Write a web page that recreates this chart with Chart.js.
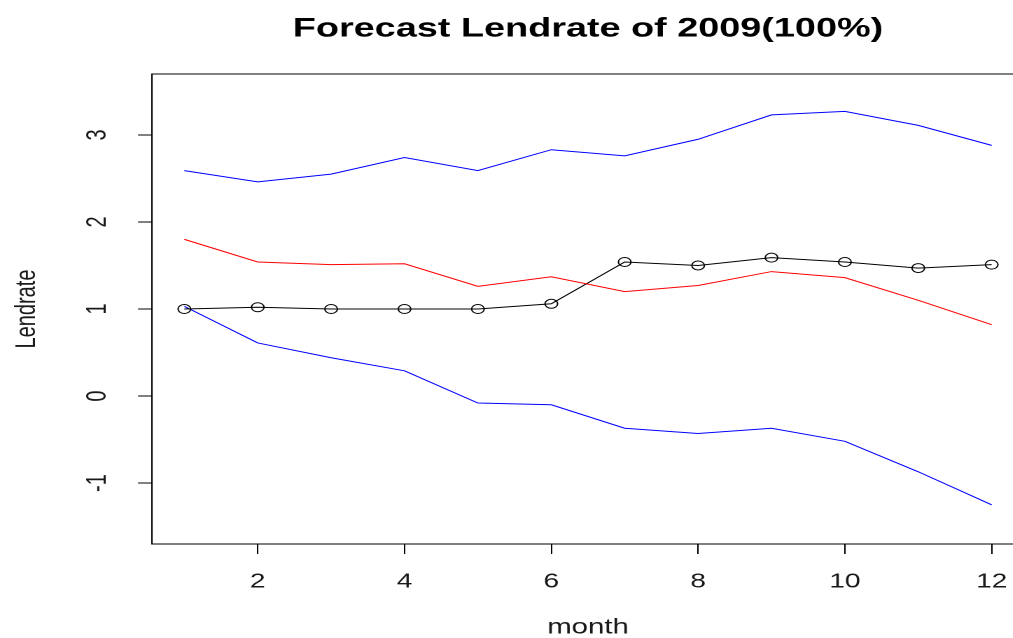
<!DOCTYPE html>
<html>
<head>
<meta charset="utf-8">
<script src="https://cdn.jsdelivr.net/npm/chart.js@4.4.1/dist/chart.umd.min.js"></script>
<style>
  html, body { margin: 0; padding: 0; background: #fff; overflow: hidden; }
  #frame { width: 1013px; height: 638px; overflow: hidden; position: relative; background: #fff; }
  /* the plot is drawn narrow and widened horizontally, giving the wide lettering and oval markers */
  #c { position: absolute; left: 0; top: 0; transform: scaleX(1.4); transform-origin: 0 0; }
</style>
</head>
<body>
<div id="frame"><canvas id="c" width="740" height="638"></canvas></div>
<script>
// Monthly lending-rate forecast for 2009 with its upper and lower bounds
const months      = [1, 2, 3, 4, 5, 6, 7, 8, 9, 10, 11, 12];
const upperBound  = [2.59, 2.46, 2.55, 2.74, 2.59, 2.83, 2.76, 2.95, 3.23, 3.27, 3.11, 2.88];
const forecast    = [1.80, 1.54, 1.51, 1.52, 1.26, 1.37, 1.20, 1.27, 1.43, 1.36, 1.10, 0.82];
const actual      = [1.00, 1.02, 1.00, 1.00, 1.00, 1.06, 1.54, 1.50, 1.59, 1.54, 1.47, 1.51];
const lowerBound  = [1.03, 0.61, 0.44, 0.29, -0.08, -0.10, -0.37, -0.43, -0.37, -0.52, -0.87, -1.25];
const xTickValues = [2, 4, 6, 8, 10, 12];
const yTickValues = [-1, 0, 1, 2, 3];

const FONT = "'Liberation Sans', Arial, Helvetica, sans-serif";
const TEXT = '#1a1a1a';
const toPoints = vals => months.map((m, i) => ({ x: m, y: vals[i] }));

// closes the plot box and writes the y tick labels turned along the axis
const boxAndYLabels = {
  id: 'boxAndYLabels',
  afterDraw(chart) {
    const { ctx, chartArea: a, scales: { y } } = chart;
    ctx.save();
    ctx.strokeStyle = '#000';
    ctx.lineWidth = 1;
    ctx.beginPath();
    ctx.moveTo(a.left, a.top);
    ctx.lineTo(a.right, a.top);
    ctx.lineTo(a.right, a.bottom);
    ctx.stroke();
    ctx.font = `20px ${FONT}`;
    ctx.fillStyle = TEXT;
    ctx.textAlign = 'center';
    ctx.textBaseline = 'middle';
    const labelX = y.right - 38.4;
    y.ticks.forEach(t => {
      ctx.save();
      ctx.translate(labelX, y.getPixelForValue(t.value));
      ctx.rotate(-Math.PI / 2);
      ctx.fillText(String(t.value), 0, 0);
      ctx.restore();
    });
    ctx.restore();
  }
};

const line = (data, color, extra) => Object.assign({
  data: toPoints(data),
  borderColor: color,
  borderWidth: 1,
  pointRadius: 0,
  tension: 0,
  fill: false
}, extra || {});

new Chart(document.getElementById('c'), {
  type: 'line',
  data: {
    datasets: [
      line(upperBound, '#0000FF'),
      line(forecast, '#FF0000'),
      line(actual, '#000000', {
        pointRadius: 4.5,
        pointBorderWidth: 1,
        pointBorderColor: '#000',
        pointBackgroundColor: 'rgba(0,0,0,0)',
        pointStyle: 'circle'
      }),
      line(lowerBound, '#0000FF')
    ]
  },
  plugins: [boxAndYLabels],
  options: {
    responsive: false,
    devicePixelRatio: 2,
    animation: false,
    events: [],
    layout: { padding: { left: 0, right: 8.6, top: 0, bottom: 0 } },
    plugins: {
      legend: { display: false },
      tooltip: { enabled: false },
      title: {
        display: true,
        fullSize: false,
        text: 'Forecast Lendrate of 2009(100%)',
        color: '#000',
        font: { family: FONT, size: 27, weight: 'bold', lineHeight: 1 },
        padding: { top: 15.5, bottom: 31.5 }
      }
    },
    scales: {
      x: {
        type: 'linear',
        min: 0.56,
        max: 12.44,
        afterBuildTicks: s => { s.ticks = xTickValues.map(v => ({ value: v })); },
        afterFit: s => { s.height = 94; },
        ticks: {
          color: TEXT,
          font: { family: FONT, size: 20 },
          padding: 16,
          maxRotation: 0,
          autoSkip: false,
          callback: v => String(v)
        },
        grid: { drawOnChartArea: false, drawTicks: true, tickLength: 10, color: '#000', lineWidth: 1 },
        border: { display: true, color: '#000', width: 1 },
        title: {
          display: true,
          text: 'month',
          color: TEXT,
          font: { family: FONT, size: 21, lineHeight: 1 },
          padding: 0
        }
      },
      y: {
        type: 'linear',
        min: -1.7,
        max: 3.7,
        afterBuildTicks: s => { s.ticks = yTickValues.map(v => ({ value: v })); },
        afterFit: s => { s.width = 108.6; },
        ticks: { display: false },
        grid: { drawOnChartArea: false, drawTicks: true, tickLength: 10, color: '#000', lineWidth: 1 },
        border: { display: true, color: '#000', width: 1 },
        title: {
          display: true,
          text: 'Lendrate',
          color: TEXT,
          font: { family: FONT, size: 20, lineHeight: 1 },
          padding: { top: 9.3, bottom: 0 }
        }
      }
    }
  }
});
</script>
</body>
</html>
